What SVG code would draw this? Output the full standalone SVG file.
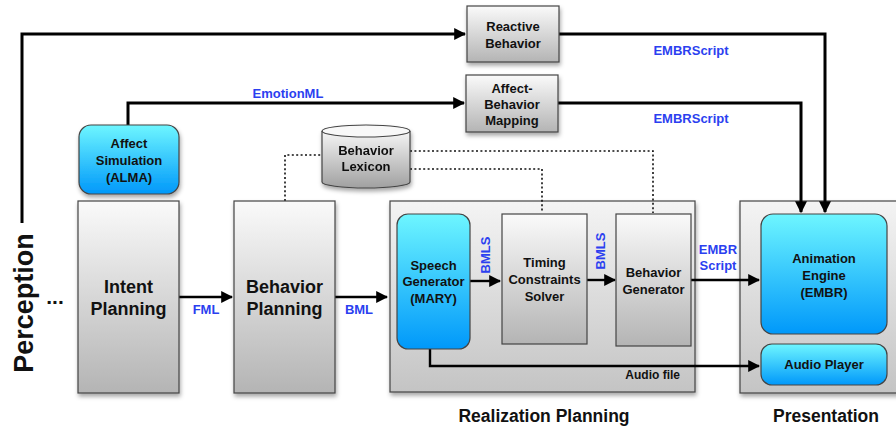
<svg xmlns="http://www.w3.org/2000/svg" width="896" height="429" viewBox="0 0 896 429">
  <style>
    .box { stroke: #444; stroke-width: 1.2; }
    .grey { fill: url(#gGrey); }
    .cyan { fill: url(#gCyan); }
    .lbl { font-family: "Liberation Sans", Arial, sans-serif; font-weight: bold; fill: #111; text-anchor: middle; }
    .sm { font-size: 13px; }
    .big { font-size: 18px; }
    .blue { font-family: "Liberation Sans", Arial, sans-serif; font-weight: bold; font-size: 13px; fill: #2b3ff0; text-anchor: middle; }
    .flow { fill: none; stroke: #000; stroke-width: 3; }
    .flow2 { fill: none; stroke: #000; stroke-width: 2.4; }
    .dot { fill: none; stroke: #111; stroke-width: 1.6; stroke-dasharray: 2 2.4; }
  </style>
  <defs>
    <linearGradient id="gGrey" x1="0" y1="0" x2="0" y2="1">
      <stop offset="0" stop-color="#fafafa"/>
      <stop offset="1" stop-color="#b4b4b4"/>
    </linearGradient>
    <linearGradient id="gPanel" x1="0" y1="0" x2="0" y2="1">
      <stop offset="0" stop-color="#f4f4f4"/>
      <stop offset="1" stop-color="#c4c4c4"/>
    </linearGradient>
    <linearGradient id="gCyan" x1="0" y1="0" x2="0" y2="1">
      <stop offset="0" stop-color="#6ef6ff"/>
      <stop offset="1" stop-color="#0098fa"/>
    </linearGradient>
    <linearGradient id="gCyl" x1="0" y1="0" x2="0" y2="1">
      <stop offset="0" stop-color="#f6f6f6"/>
      <stop offset="1" stop-color="#a0a0a0"/>
    </linearGradient>
    <filter id="shadow" x="-10%" y="-10%" width="130%" height="130%">
      <feDropShadow dx="1" dy="3" stdDeviation="2" flood-color="#000" flood-opacity="0.35"/>
    </filter>
    <marker id="arr" viewBox="0 0 10 10" refX="9" refY="5" markerWidth="4" markerHeight="4" markerUnits="strokeWidth" orient="auto">
      <path d="M0,0 L10,5 L0,10 z" fill="#000"/>
    </marker>
    <marker id="arr2" viewBox="0 0 10 10" refX="9" refY="5" markerWidth="5" markerHeight="5" markerUnits="strokeWidth" orient="auto">
      <path d="M0,0 L10,5 L0,10 z" fill="#000"/>
    </marker>
  </defs>

  <rect width="896" height="429" fill="#fff"/>

  <!-- containers -->
  <g id="realization-planning">
    <rect x="390" y="201" width="305" height="191" fill="url(#gPanel)" class="box" filter="url(#shadow)"/>
    <text class="lbl" x="544" y="422" font-size="17.5">Realization Planning</text>
  </g>
  <g id="presentation">
    <rect x="740" y="201" width="170" height="192" fill="url(#gPanel)" class="box" filter="url(#shadow)"/>
    <text class="lbl" x="826" y="422" font-size="17.5">Presentation</text>
  </g>

  <!-- connectors -->
  <g id="connectors">
    <path class="flow" d="M22,223 V34 H465" marker-end="url(#arr)"/>
    <path class="flow" d="M128,125 V103 H464" marker-end="url(#arr)"/>
    <path class="flow" d="M559,34 H825 V212" marker-end="url(#arr)"/>
    <path class="flow" d="M558,103 H801 V212" marker-end="url(#arr)"/>
    <path class="flow2" d="M179,297 H232" marker-end="url(#arr2)"/>
    <path class="flow2" d="M335,297 H387" marker-end="url(#arr2)"/>
    <path class="flow2" d="M470,281 H500" marker-end="url(#arr2)"/>
    <path class="flow2" d="M587,280 H615" marker-end="url(#arr2)"/>
    <path class="flow2" d="M691,280 H759" marker-end="url(#arr2)"/>
    <path class="flow2" d="M430,349 V366 H759" marker-end="url(#arr2)"/>
    <path class="dot" d="M285,201 V155 H321"/>
    <path class="dot" d="M410,151 H653 V213"/>
    <path class="dot" d="M410,169 H542 V213"/>
    <text class="blue" x="288" y="98">EmotionML</text>
    <text class="blue" x="691" y="55">EMBRScript</text>
    <text class="blue" x="691" y="123">EMBRScript</text>
    <text class="blue" x="206" y="314">FML</text>
    <text class="blue" x="359" y="314">BML</text>
    <text class="blue" font-size="12.5" transform="translate(490,255) rotate(-90)">BMLS</text>
    <text class="blue" font-size="12.5" transform="translate(605,251) rotate(-90)">BMLS</text>
    <text class="blue" x="718" y="254">EMBR</text>
    <text class="blue" x="718" y="270">Script</text>
    <text class="lbl" x="680" y="379" font-size="12" style="text-anchor:end">Audio file</text>
  </g>

  <!-- perception -->
  <g id="perception">
    <text class="lbl" font-size="27" transform="translate(33,303) rotate(-90)">Perception</text>
    <text class="lbl" x="55" y="304" font-size="21">...</text>
  </g>

  <g id="reactive-behavior">
    <rect x="467" y="6" width="92" height="56" class="box grey" filter="url(#shadow)"/>
    <text class="lbl sm" x="513" y="31">Reactive</text>
    <text class="lbl sm" x="513" y="48">Behavior</text>
  </g>

  <g id="affect-behavior-mapping">
    <rect x="466" y="75" width="92" height="57" class="box grey" filter="url(#shadow)"/>
    <text class="lbl sm" x="512" y="93">Affect-</text>
    <text class="lbl sm" x="512" y="109">Behavior</text>
    <text class="lbl sm" x="512" y="125">Mapping</text>
  </g>

  <g id="affect-simulation">
    <rect x="79" y="125" width="100" height="69" rx="12" class="box cyan" filter="url(#shadow)"/>
    <text class="lbl sm" x="129" y="148">Affect</text>
    <text class="lbl sm" x="129" y="165">Simulation</text>
    <text class="lbl sm" x="129" y="182">(ALMA)</text>
  </g>

  <g id="behavior-lexicon" filter="url(#shadow)">
    <path d="M322,131 V182 A44,6 0 0 0 410,182 V131" fill="url(#gCyl)" stroke="#444" stroke-width="1.2"/>
    <ellipse cx="366" cy="131" rx="44" ry="6" fill="#f8f8f8" stroke="#444" stroke-width="1.2"/>
    <text class="lbl sm" x="366" y="155">Behavior</text>
    <text class="lbl sm" x="366" y="171">Lexicon</text>
  </g>

  <g id="intent-planning">
    <rect x="78" y="201" width="101" height="192" class="box grey" filter="url(#shadow)"/>
    <text class="lbl big" x="128.5" y="293">Intent</text>
    <text class="lbl big" x="128.5" y="315">Planning</text>
  </g>

  <g id="behavior-planning">
    <rect x="234" y="201" width="101" height="192" class="box grey" filter="url(#shadow)"/>
    <text class="lbl big" x="284.5" y="293">Behavior</text>
    <text class="lbl big" x="284.5" y="315">Planning</text>
  </g>

  <g id="speech-generator">
    <rect x="397" y="214" width="73" height="135" rx="11" class="box cyan"/>
    <text class="lbl sm" x="433.5" y="270">Speech</text>
    <text class="lbl sm" x="433.5" y="286">Generator</text>
    <text class="lbl sm" x="433.5" y="303">(MARY)</text>
  </g>

  <g id="timing-constraints-solver">
    <rect x="502" y="214" width="85" height="130" class="box grey"/>
    <text class="lbl sm" x="544.5" y="267">Timing</text>
    <text class="lbl sm" x="544.5" y="284">Constraints</text>
    <text class="lbl sm" x="544.5" y="301">Solver</text>
  </g>

  <g id="behavior-generator">
    <rect x="616" y="214" width="75" height="132" class="box grey"/>
    <text class="lbl sm" x="653.5" y="277">Behavior</text>
    <text class="lbl sm" x="653.5" y="294">Generator</text>
  </g>

  <g id="animation-engine">
    <rect x="761" y="214" width="126" height="120" rx="12" class="box cyan"/>
    <text class="lbl sm" x="824" y="263">Animation</text>
    <text class="lbl sm" x="824" y="280">Engine</text>
    <text class="lbl sm" x="824" y="297">(EMBR)</text>
  </g>

  <g id="audio-player">
    <rect x="761" y="344" width="126" height="41" rx="11" class="box cyan"/>
    <text class="lbl sm" x="824" y="369">Audio Player</text>
  </g>
</svg>
